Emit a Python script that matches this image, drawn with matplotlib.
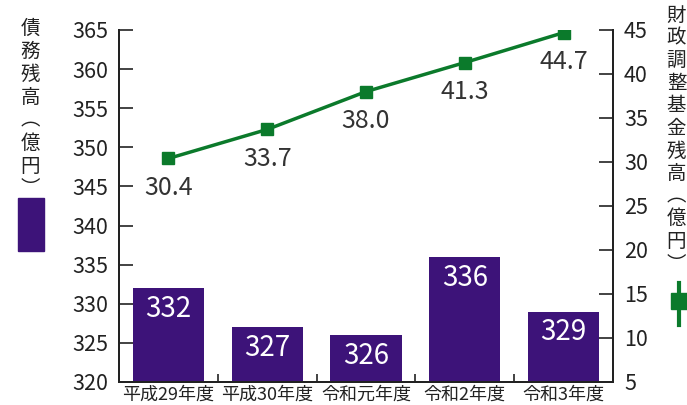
import matplotlib.pyplot as plt
from matplotlib.lines import Line2D
from matplotlib.patches import Rectangle

plt.rcParams['font.family'] = ['Noto Sans CJK JP', 'DejaVu Sans']

# data
years = ['平成29年度', '平成30年度', '令和元年度', '令和2年度', '令和3年度']
debt = [332, 327, 326, 336, 329]          # 債務残高（億円）
fund = [30.4, 33.7, 38.0, 41.3, 44.7]     # 財政調整基金残高（億円）
left_ticks = [320, 325, 330, 335, 340, 345, 350, 355, 360, 365]
right_ticks = [5, 10, 15, 20, 25, 30, 35, 40, 45]

purple = '#3d1379'
green = '#0b7a2b'
ink = '#222222'

fig = plt.figure(figsize=(6.87, 4.05), dpi=100)
ax = fig.add_axes([119 / 687, 1 - 382 / 405, (613 - 119) / 687, (382 - 30) / 405])
ax2 = ax.twinx()

x = range(len(years))
ax.bar(x, [d - 320 for d in debt], bottom=320, width=0.72, color=purple, zorder=2)
for xi, d in zip(x, debt):
    ax.annotate(str(d), (xi, d), xytext=(0, -15), textcoords='offset points',
                ha='center', va='center', color='white', fontsize=20)

ax.set_xlim(-0.5, len(years) - 0.5)
ax.set_ylim(320, 365)
ax.set_yticks(left_ticks)
ax.set_xticks(list(x))
ax.set_xticklabels(years, fontsize=13, color=ink)
ax.set_xticks([i + 0.5 for i in range(len(years) - 1)], minor=True)
ax.tick_params(axis='x', which='major', length=0, pad=3)
ax.tick_params(axis='x', which='minor', direction='in', length=6, width=1.2, color=ink)
ax.tick_params(axis='y', direction='in', length=10, width=1.2, labelsize=15.5, pad=8,
               color=ink, labelcolor=ink)

ax2.plot(list(x), fund, color=green, lw=2.5, marker='s', markersize=9, zorder=3)
for xi, f in zip(x, fund):
    ax2.annotate(f'{f:.1f}', (xi, f), xytext=(0, -21), textcoords='offset points',
                 ha='center', va='center', color='#333333', fontsize=18)
ax2.set_ylim(5, 45)
ax2.set_yticks(right_ticks)
ax2.tick_params(axis='y', direction='in', length=10, width=1.2, labelsize=15.5, pad=8,
                color=ink, labelcolor=ink)

for a in (ax, ax2):
    a.spines['top'].set_visible(False)
    for s in ('left', 'right', 'bottom'):
        a.spines[s].set_linewidth(1.4)
        a.spines[s].set_color(ink)
    a.set_facecolor('none')

# vertical axis titles with legend keys
fig.text(30 / 687, 1 - 18 / 405, '債\n務\n残\n高\n︵\n億\n円\n︶', ha='center', va='top',
         fontsize=14, color=ink, linespacing=1.12)
fig.patches.append(Rectangle((18 / 687, 1 - 251 / 405), 26 / 687, 53 / 405,
                             transform=fig.transFigure, color=purple))

fig.text(676.5 / 687, 1 - 5 / 405, '財\n政\n調\n整\n基\n金\n残\n高\n︵\n億\n円\n︶', ha='center', va='top',
         fontsize=14, color=ink, linespacing=1.1)
fig.lines.append(Line2D([679 / 687, 679 / 687], [1 - 283 / 405, 1 - 325 / 405],
                        transform=fig.transFigure, color=green, lw=3))
fig.lines.append(Line2D([679 / 687], [1 - 301 / 405], transform=fig.transFigure,
                        color=green, marker='s', markersize=12, lw=0))

fig.savefig('out.png', dpi=100)
